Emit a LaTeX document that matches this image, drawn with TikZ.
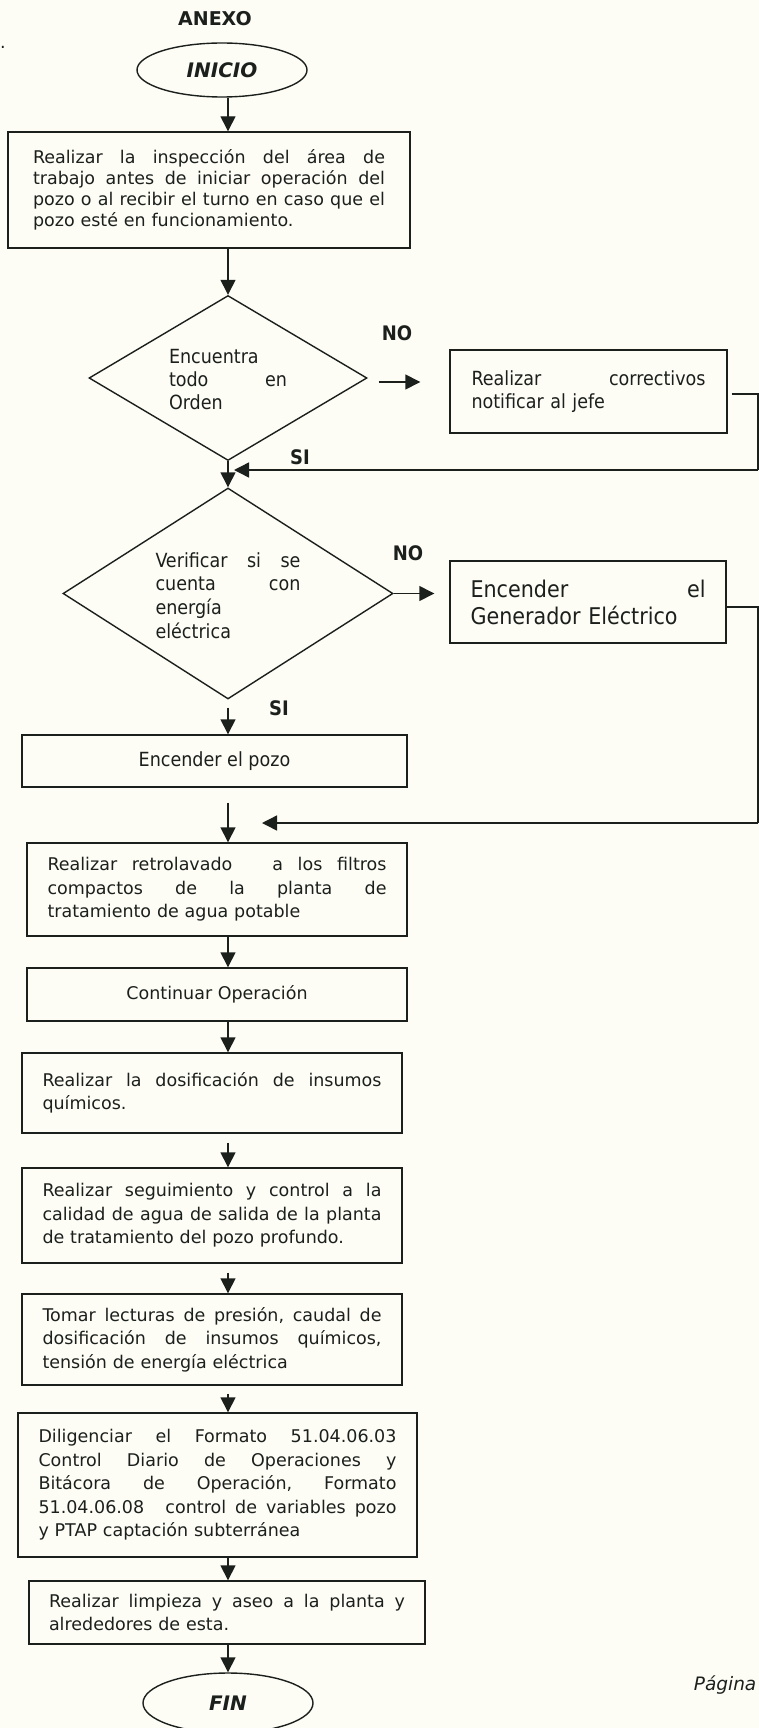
\documentclass[tikz,border=0pt]{standalone}
\usepackage{fontspec}
\setmainfont{DejaVu Sans}
\newfontfamily\cond{DejaVu Sans Condensed}
\usetikzlibrary{shapes.geometric,arrows.meta,calc}
\definecolor{ink}{RGB}{28,32,28}
\definecolor{paper}{RGB}{253,253,246}
\newcommand\J[2]{\leavevmode\hbox to #1pt{#2}}
\newcommand\G{\hfill}
\begin{document}
\begin{tikzpicture}[x=1pt,y=-1pt,line width=1.4pt,color=ink,
  vf/.style={font=\fontsize{17.5}{23.5}\selectfont},
  tf/.style={font=\cond\fontsize{19.5}{23}\selectfont},
  box/.style={draw,rectangle,align=left,inner ysep=0pt},
  arr/.style={-{Triangle[width=15pt,length=15pt]}},
  lbl/.style={font=\cond\bfseries\fontsize{20}{24}\selectfont},
  term/.style={draw,ellipse,minimum width=170pt,minimum height=54pt,inner sep=0pt,font=\bfseries\itshape\fontsize{20}{24}\selectfont},
  dia/.style={draw,diamond,inner sep=0pt}]
\useasboundingbox (0,0) rectangle (759,1728);
\fill[paper] (0,0) rectangle (759,1728);
\coordinate (col) at (228,0);

\node[font=\bfseries\fontsize{19}{23}\selectfont] (anexo) at (215,19) {ANEXO};
\node[font=\fontsize{17.5}{21}\selectfont,inner sep=0pt] (dot) at (3,47) {.};
\node[term] (inicio) at (222,70) {INICIO};

\node[box,font=\fontsize{17.5}{21}\selectfont,text width=352pt,inner xsep=25pt,minimum height=116pt] (b1) at (209,190)
 {\J{352}{Realizar\G la\G inspección\G del\G área\G de}\\
  \J{352}{trabajo\G antes\G de\G iniciar\G operación\G del}\\
  \J{352}{pozo\G o\G al\G recibir\G el\G turno\G en\G caso\G que\G el}\\
  pozo esté en funcionamiento.};

\node[dia,minimum width=278pt,minimum height=165pt] (d1) at (228,378) {};
\node[tf,text width=118pt,align=left] (d1t) at (228,380) {Encuentra\\\J{118}{todo\G en}\\Orden};
\node[lbl] (no1) at (397,333) {NO};
\node[box,tf,text width=234pt,inner xsep=21.5pt,minimum height=83pt] (b2) at (588.5,391.5)
 {\J{234}{Realizar\G correctivos}\\notificar al jefe};
\node[lbl] (si1) at (300,457) {SI};
\coordinate (j1) at (228,470);

\node[dia,minimum width=330pt,minimum height=211pt] (d2) at (228,593.5) {};
\node[font=\cond\fontsize{19.5}{23.7}\selectfont,text width=145pt,align=left] (d2t) at (228,595.5)
 {\J{145}{Verificar\G si\G se}\\\J{145}{cuenta\G con}\\energía\\eléctrica};
\node[lbl] (no2) at (408,553) {NO};
\node[box,font=\cond\fontsize{23}{27}\selectfont,text width=235pt,inner xsep=20.5pt,minimum height=82pt] (b3) at (588,602)
 {\J{235}{Encender\G el}\\Generador Eléctrico};
\node[lbl] (si2) at (279,708) {SI};
\coordinate (j2) at (228,823);

\node[box,tf,align=center,minimum width=385pt,minimum height=52pt,inner xsep=0pt] (pozo) at (214.5,761) {Encender el pozo};
\node[box,vf,text width=339pt,inner xsep=20.5pt,minimum height=93pt] (retro) at (217,889.5)
 {\J{339}{Realizar\G retrolavado\G\hspace{.6em}\G a\G los\G filtros}\\
  \J{339}{compactos\G de\G la\G planta\G de}\\
  tratamiento de agua potable};
\node[box,vf,align=center,minimum width=380pt,minimum height=53pt,inner xsep=0pt] (cont) at (217,994.5) {Continuar Operación};
\node[box,vf,text width=339pt,inner xsep=20.5pt,minimum height=80pt] (dosif) at (212,1093)
 {\J{339}{Realizar\G la\G dosificación\G de\G insumos}\\químicos.};
\node[box,vf,text width=339pt,inner xsep=20.5pt,minimum height=95pt] (seg) at (212,1215.5)
 {\J{339}{Realizar\G seguimiento\G y\G control\G a\G la}\\
  \J{339}{calidad\G de\G agua\G de\G salida\G de\G la\G planta}\\
  de tratamiento del pozo profundo.};
\node[box,vf,text width=339pt,inner xsep=20.5pt,minimum height=91pt] (tomar) at (212,1339.5)
 {\J{339}{Tomar\G lecturas\G de\G presión,\G caudal\G de}\\
  \J{339}{dosificación\G de\G insumos\G químicos,}\\
  tensión de energía eléctrica};
\node[box,vf,text width=358pt,inner xsep=20.5pt,minimum height=144pt] (dilig) at (217.5,1485)
 {\J{358}{Diligenciar\G el\G Formato\G 51.04.06.03}\\
  \J{358}{Control\G Diario\G de\G Operaciones\G y}\\
  \J{358}{Bitácora\G de\G Operación,\G Formato}\\
  \J{358}{51.04.06.08\hspace{.7em}\G control\G de\G variables\G pozo}\\
  y PTAP captación subterránea};
\node[box,font=\fontsize{17.5}{23}\selectfont,text width=356pt,inner xsep=20pt,minimum height=63pt] (limp) at (227,1612.5)
 {\J{356}{Realizar\G limpieza\G y\G aseo\G a\G la\G planta\G y}\\alrededores de esta.};
\node[term,minimum height=60pt] (fin) at (228,1703) {FIN};
\node[font=\itshape\fontsize{18.5}{22}\selectfont,anchor=east,inner sep=0pt] (pag) at (757,1685) {Página};

% connectors
\draw[arr] (inicio.south -| col) -- (b1.north -| col);
\draw[arr] (b1.south -| col) -- (d1.north);
\draw[arr] ($(d1.east)+(11,4)$) -- ($(b2.west)+(-29,-9.5)$);
\draw ($(b2.east)+(4,2.5)$) -- (758,394) -- (758,470);
\draw[arr] (758,470) -- ($(j1)+(6,0)$);
\draw[arr] (d1.south) -- (d2.north);
\draw[arr] (d2.east) -- ($(b3.west |- d2.east)+(-15,0)$);
\draw ($(b3.east)+(0,5)$) -- (758,607) -- (758,823);
\draw[arr] (758,823) -- ($(j2)+(34,0)$);
\draw[arr] ($(d2.south)+(0,8)$) -- (pozo.north -| col);
\draw[arr] ($(pozo.south -| col)+(0,15)$) -- (retro.north -| col);
\draw[arr] (retro.south -| col) -- (cont.north -| col);
\draw[arr] (cont.south -| col) -- (dosif.north -| col);
\draw[arr] ($(dosif.south -| col)+(0,9)$) -- (seg.north -| col);
\draw[arr] ($(seg.south -| col)+(0,9)$) -- (tomar.north -| col);
\draw[arr] ($(tomar.south -| col)+(0,8)$) -- (dilig.north -| col);
\draw[arr] (dilig.south -| col) -- (limp.north -| col);
\draw[arr] (limp.south -| col) -- (fin.north);
\end{tikzpicture}
\end{document}
